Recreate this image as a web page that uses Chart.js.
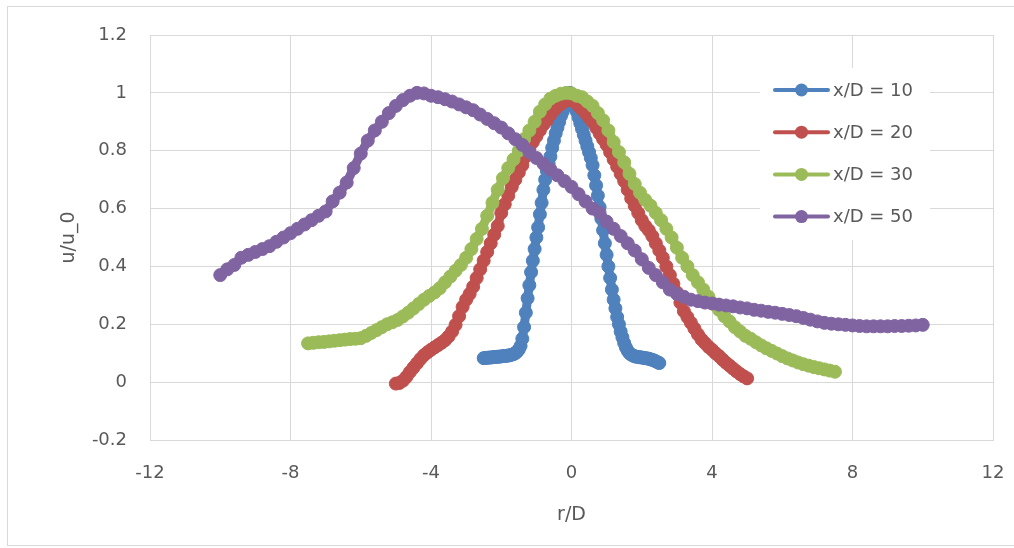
<!DOCTYPE html>
<html>
<head>
<meta charset="utf-8">
<script src="https://cdn.jsdelivr.net/npm/chart.js@4.4.1/dist/chart.umd.min.js"></script>
<style>
  html, body { margin: 0; padding: 0; background: #ffffff; }
  #wrap { position: relative; width: 1014px; height: 548px; overflow: hidden; }
  #frame { position: absolute; left: 7px; top: 6px; width: 1020px; height: 538px;
           border: 1px solid #d9d9d9; pointer-events: none; }
  canvas { position: absolute; left: 0; top: 0; }
</style>
</head>
<body>
<div id="wrap">
  <canvas id="chart" width="1014" height="548"></canvas>
  <div id="frame"></div>
</div>
<script>
// Radial profiles of normalised velocity u/u_0 against r/D at four downstream stations.
const seriesLabels = ['x/D = 10', 'x/D = 20', 'x/D = 30', 'x/D = 50'];
const seriesColors = ['#4F81BD', '#C0504D', '#9BBB59', '#8064A2'];

const rBlue = [-2.5,-2.45,-2.4,-2.35,-2.3,-2.25,-2.2,-2.15,-2.1,-2.05,-2,-1.95,-1.9,-1.85,-1.8,-1.75,-1.7,-1.65,-1.6,-1.55,
  -1.5,-1.45,-1.4,-1.35,-1.3,-1.25,-1.2,-1.15,-1.1,-1.05,-1,-0.95,-0.9,-0.85,-0.8,-0.75,-0.7,-0.65,-0.6,-0.55,
  -0.5,-0.45,-0.4,-0.35,-0.3,-0.25,-0.2,-0.15,-0.1,-0.05,0,
  0.05,0.1,0.15,0.2,0.25,0.3,0.35,0.4,0.45,0.5,0.55,0.6,0.65,0.7,0.75,0.8,0.85,0.9,0.95,1,
  1.05,1.1,1.15,1.2,1.25,1.3,1.35,1.4,1.45,1.5,1.55,1.6,1.65,1.7,1.75,1.8,1.85,1.9,1.95,2,
  2.05,2.1,2.15,2.2,2.25,2.3,2.35,2.4,2.45,2.5];
const uBlue = [0.083,0.084,0.084,0.085,0.085,0.086,0.087,0.087,0.088,0.088,
  0.089,0.090,0.090,0.091,0.092,0.093,0.095,0.097,0.100,0.105,
  0.113,0.125,0.15,0.19,0.24,0.29,0.335,0.38,0.42,0.46,
  0.50,0.535,0.58,0.62,0.665,0.70,0.73,0.755,0.78,0.81,
  0.835,0.86,0.88,0.90,0.92,0.935,0.95,0.965,0.98,1.0,0.99,
  0.97,0.95,0.935,0.915,0.895,0.875,0.855,0.835,0.815,0.795,
  0.775,0.75,0.715,0.68,0.645,0.605,0.565,0.525,0.48,0.44,
  0.40,0.36,0.32,0.285,0.255,0.225,0.20,0.175,0.155,0.135,
  0.12,0.108,0.10,0.095,0.092,0.089,0.088,0.087,0.086,0.085,
  0.084,0.083,0.082,0.081,0.079,0.077,0.075,0.072,0.069,0.066];

const rRed = [-5,-4.9,-4.8,-4.7,-4.6,-4.5,-4.4,-4.3,-4.2,-4.1,-4,-3.9,-3.8,-3.7,-3.6,-3.5,-3.4,-3.3,-3.2,-3.1,
  -3,-2.9,-2.8,-2.7,-2.6,-2.5,-2.4,-2.3,-2.2,-2.1,-2,-1.9,-1.8,-1.7,-1.6,-1.5,-1.4,-1.3,-1.2,-1.1,
  -1,-0.9,-0.8,-0.7,-0.6,-0.5,-0.4,-0.3,-0.2,-0.1,0,
  0.1,0.2,0.3,0.4,0.5,0.6,0.7,0.8,0.9,1,1.1,1.2,1.3,1.4,1.5,1.6,1.7,1.8,1.9,2,
  2.1,2.2,2.3,2.4,2.5,2.6,2.7,2.8,2.9,3,3.1,3.2,3.3,3.4,3.5,3.6,3.7,3.8,3.9,4,
  4.1,4.2,4.3,4.4,4.5,4.6,4.7,4.8,4.9,5];
const uRed = [-0.005,-0.003,0.005,0.018,0.035,0.05,0.065,0.08,0.093,0.103,
  0.112,0.12,0.128,0.136,0.145,0.158,0.175,0.198,0.228,0.26,
  0.285,0.305,0.33,0.36,0.39,0.42,0.45,0.48,0.51,0.54,
  0.585,0.615,0.645,0.675,0.70,0.725,0.75,0.78,0.805,0.83,
  0.85,0.87,0.89,0.905,0.925,0.94,0.952,0.962,0.97,0.976,0.975,
  0.968,0.955,0.943,0.93,0.915,0.9,0.88,0.86,0.84,0.82,
  0.795,0.77,0.745,0.72,0.695,0.665,0.635,0.61,0.585,0.56,
  0.54,0.525,0.505,0.48,0.455,0.43,0.40,0.37,0.34,0.31,
  0.275,0.245,0.225,0.205,0.185,0.165,0.148,0.135,0.122,0.112,
  0.10,0.09,0.078,0.067,0.057,0.047,0.037,0.028,0.02,0.013];

const rGreen = [-7.5,-7.35,-7.2,-7.05,-6.9,-6.75,-6.6,-6.45,-6.3,-6.15,-6,-5.85,-5.7,-5.55,-5.4,-5.25,-5.1,-4.95,-4.8,-4.65,
  -4.5,-4.35,-4.2,-4.05,-3.9,-3.75,-3.6,-3.45,-3.3,-3.15,-3,-2.85,-2.7,-2.55,-2.4,-2.25,-2.1,-1.95,-1.8,-1.65,
  -1.5,-1.35,-1.2,-1.05,-0.9,-0.75,-0.6,-0.45,-0.3,-0.15,0,
  0.15,0.3,0.45,0.6,0.75,0.9,1.05,1.2,1.35,1.5,1.65,1.8,1.95,2.1,2.25,2.4,2.55,2.7,2.85,3,
  3.15,3.3,3.45,3.6,3.75,3.9,4.05,4.2,4.35,4.5,4.65,4.8,4.95,5.1,5.25,5.4,5.55,5.7,5.85,6,
  6.15,6.3,6.45,6.6,6.75,6.9,7.05,7.2,7.35,7.5];
const uGreen = [0.134,0.136,0.138,0.139,0.141,0.143,0.145,0.147,0.149,0.150,
  0.152,0.16,0.17,0.18,0.19,0.20,0.207,0.215,0.227,0.24,
  0.255,0.27,0.285,0.298,0.31,0.325,0.345,0.365,0.385,0.405,
  0.43,0.46,0.495,0.53,0.575,0.62,0.665,0.705,0.74,0.77,
  0.80,0.84,0.87,0.90,0.935,0.96,0.98,0.99,0.997,1.0,0.998,
  0.99,0.985,0.97,0.955,0.93,0.905,0.87,0.83,0.795,0.76,
  0.72,0.685,0.655,0.63,0.61,0.585,0.56,0.53,0.50,0.465,
  0.43,0.40,0.37,0.345,0.32,0.295,0.27,0.25,0.228,0.21,
  0.19,0.175,0.16,0.15,0.138,0.127,0.117,0.108,0.099,0.09,
  0.082,0.075,0.068,0.062,0.057,0.052,0.048,0.044,0.04,0.036];

const rPurple = [-10,-9.8,-9.6,-9.4,-9.2,-9,-8.8,-8.6,-8.4,-8.2,-8,-7.8,-7.6,-7.4,-7.2,-7,-6.8,-6.6,-6.4,-6.2,
  -6,-5.8,-5.6,-5.4,-5.2,-5,-4.8,-4.6,-4.4,-4.2,-4,-3.8,-3.6,-3.4,-3.2,-3,-2.8,-2.6,-2.4,-2.2,
  -2,-1.8,-1.6,-1.4,-1.2,-1,-0.8,-0.6,-0.4,-0.2,0,
  0.2,0.4,0.6,0.8,1,1.2,1.4,1.6,1.8,2,2.2,2.4,2.6,2.8,3,3.2,3.4,3.6,3.8,4,
  4.2,4.4,4.6,4.8,5,5.2,5.4,5.6,5.8,6,6.2,6.4,6.6,6.8,7,7.2,7.4,7.6,7.8,8,
  8.2,8.4,8.6,8.8,9,9.2,9.4,9.6,9.8,10];
const uPurple = [0.37,0.39,0.405,0.43,0.44,0.45,0.46,0.47,0.485,0.50,
  0.515,0.53,0.545,0.56,0.575,0.59,0.625,0.655,0.69,0.74,
  0.79,0.835,0.87,0.90,0.93,0.955,0.975,0.99,1.0,0.998,
  0.99,0.985,0.978,0.97,0.96,0.95,0.94,0.925,0.91,0.895,
  0.88,0.86,0.84,0.82,0.795,0.775,0.755,0.735,0.715,0.695,0.675,
  0.65,0.625,0.60,0.585,0.555,0.53,0.505,0.48,0.455,0.425,
  0.395,0.37,0.345,0.32,0.305,0.295,0.285,0.28,0.275,0.272,
  0.268,0.265,0.262,0.258,0.255,0.25,0.247,0.243,0.24,0.236,
  0.232,0.228,0.222,0.216,0.21,0.205,0.202,0.2,0.198,0.196,
  0.194,0.193,0.193,0.193,0.193,0.194,0.194,0.195,0.196,0.198];

const xTicks = { min: -12, max: 12, step: 4 };
const yTicks = { min: -0.2, max: 1.2, step: 0.2 };
const xTitle = 'r/D';
const yTitle = 'u/u_0';

const FONT = 'DejaVu Sans';
const TEXT = '#595959';
const GRID = '#d9d9d9';

function pairs(rs, us) { return rs.map((r, i) => ({ x: r, y: us[i] })); }

const seriesData = [pairs(rBlue, uBlue), pairs(rRed, uRed), pairs(rGreen, uGreen), pairs(rPurple, uPurple)];

// Later series sit on top of earlier ones; thick lines plus large markers form a solid band.
const datasets = seriesData.map((d, i) => ({
  label: seriesLabels[i],
  data: d,
  showLine: true,
  borderColor: seriesColors[i],
  backgroundColor: seriesColors[i],
  borderWidth: 9,
  borderCapStyle: 'round',
  borderJoinStyle: 'round',
  pointRadius: 6.5,
  pointBorderWidth: 1,
  pointBorderColor: seriesColors[i],
  pointBackgroundColor: seriesColors[i],
  order: seriesData.length - i
}));

// Legend box with line-and-marker samples, drawn over the gridlines.
const sampleLegend = {
  id: 'sampleLegend',
  afterDatasetsDraw(chart) {
    const ctx = chart.ctx;
    const a = chart.chartArea;
    const boxL = a.right - 233, boxT = a.top + 33, boxW = 170, boxH = 172;
    ctx.save();
    ctx.fillStyle = '#ffffff';
    ctx.fillRect(boxL, boxT, boxW, boxH);
    ctx.font = '18px "' + FONT + '"';
    ctx.textBaseline = 'middle';
    ctx.textAlign = 'left';
    chart.data.datasets.forEach((ds, i) => {
      const cy = boxT + 22 + i * 42.2;
      const x0 = boxL + 15, x1 = boxL + 68, cx = (x0 + x1) / 2;
      ctx.strokeStyle = ds.borderColor;
      ctx.lineWidth = 4;
      ctx.lineCap = 'round';
      ctx.beginPath(); ctx.moveTo(x0, cy); ctx.lineTo(x1, cy); ctx.stroke();
      ctx.fillStyle = ds.backgroundColor;
      ctx.beginPath(); ctx.arc(cx, cy, 6.5, 0, Math.PI * 2); ctx.fill();
      ctx.fillStyle = TEXT;
      ctx.fillText(ds.label, x1 + 5, cy + 1);
    });
    ctx.restore();
  }
};

const fmt = v => String(Number(v.toFixed(1)));

new Chart(document.getElementById('chart'), {
  type: 'scatter',
  data: { datasets },
  plugins: [sampleLegend],
  options: {
    responsive: false,
    animation: false,
    devicePixelRatio: 1,
    layout: { padding: { left: 0, right: 21, top: 35, bottom: 0 } },
    plugins: { legend: { display: false }, tooltip: { enabled: false } },
    scales: {
      x: {
        type: 'linear',
        min: xTicks.min, max: xTicks.max,
        afterFit(s) { s.height = 108; s.paddingLeft = 0; s.paddingRight = 0; },
        ticks: { stepSize: xTicks.step, color: TEXT, font: { family: FONT, size: 18 }, padding: 23, maxRotation: 0, callback: fmt },
        grid: { color: GRID, lineWidth: 1, drawTicks: false },
        border: { color: GRID, width: 1 },
        title: { display: true, text: xTitle, color: TEXT, font: { family: FONT, size: 19 }, padding: { top: 0, bottom: 22 } }
      },
      y: {
        type: 'linear',
        min: yTicks.min, max: yTicks.max,
        afterFit(s) { s.width = 150; s.paddingTop = 0; s.paddingBottom = 0; },
        ticks: { stepSize: yTicks.step, color: TEXT, font: { family: FONT, size: 18 }, padding: 23, callback: fmt },
        grid: { color: GRID, lineWidth: 1, drawTicks: false },
        border: { color: GRID, width: 1 },
        title: { display: true, text: yTitle, color: TEXT, font: { family: FONT, size: 19 }, padding: { top: 58, bottom: 0 } }
      }
    }
  }
});
</script>
</body>
</html>
